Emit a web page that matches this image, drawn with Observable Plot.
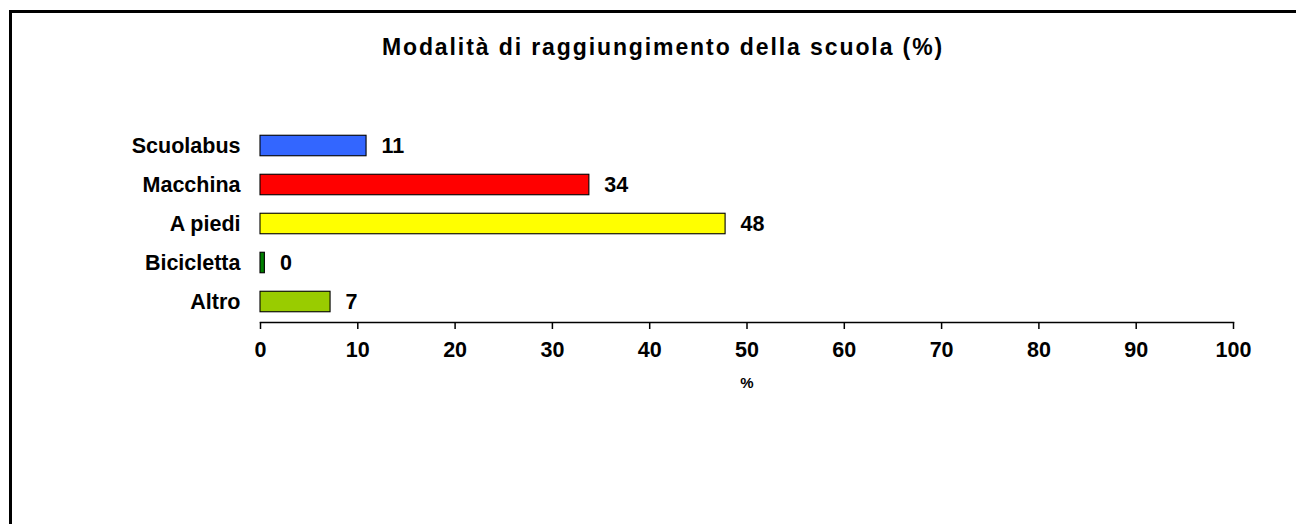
<!DOCTYPE html>
<html>
<head>
<meta charset="utf-8">
<script src="https://cdn.jsdelivr.net/npm/d3@7"></script>
<script src="https://cdn.jsdelivr.net/npm/@observablehq/plot@0.6"></script>
<style>
  html, body { margin: 0; padding: 0; background: #fff; overflow: hidden; }
  #wrap { position: relative; width: 1296px; height: 524px; font-family: Arial, "Liberation Sans", sans-serif; }
  #frame { position: absolute; left: 9px; top: 10px; width: 1400px; height: 700px; border: 3px solid #000; box-sizing: border-box; }
  #title { position: absolute; left: 0; width: 1326px; top: 34px; text-align: center; font-weight: bold; font-size: 23px; letter-spacing: 1.9px; line-height: 26px; color: #000; }
  #chart { position: absolute; left: 0; top: 0; }
</style>
</head>
<body>
<div id="wrap">
  <div id="frame"></div>
  <div id="title">Modalità di raggiungimento della scuola (%)</div>
  <div id="chart"></div>
</div>
<script>
const categories = ["Scuolabus", "Macchina", "A piedi", "Bicicletta", "Altro"];
const values = [10.9, 33.8, 47.8, 0.45, 7.2];
const valueLabels = ["11", "34", "48", "0", "7"];
const colors = ["#3366FF", "#FF0000", "#FFFF00", "#008000", "#99CC00"];
const xTicks = [0, 10, 20, 30, 40, 50, 60, 70, 80, 90, 100];

const data = categories.map((c, i) => ({cat: c, value: values[i], label: valueLabels[i], color: colors[i]}));

const chart = Plot.plot({
  width: 1296,
  height: 524,
  marginLeft: 260,
  marginRight: 63,
  marginTop: 124.5,
  marginBottom: 202,
  style: {fontFamily: "Arial, 'Liberation Sans', sans-serif", fontWeight: "bold", fontSize: "21.5px", color: "#000", background: "transparent"},
  x: {domain: [0, 100], ticks: xTicks},
  y: {domain: categories, padding: 0},
  marks: [
    Plot.barX(data, {x: "value", y: "cat", fill: "color", stroke: "#000", strokeWidth: 1.1, insetTop: 9.25, insetBottom: 9.25}),
    Plot.text(data, {x: "value", y: "cat", text: "label", textAnchor: "start", dx: 15, fontSize: 21.5, fontWeight: "bold", fill: "#000"}),
    Plot.frame({anchor: "bottom", stroke: "#000", strokeWidth: 1.5, strokeOpacity: 1}),
    Plot.axisX({ticks: xTicks, tickSize: 7, tickPadding: 12, tickFormat: d => String(d), fontSize: 21.5, fontWeight: "bold", stroke: "#000", strokeOpacity: 1, strokeWidth: 1.5, label: null}),
    Plot.axisX({ticks: [], tickSize: 0, label: "%", labelAnchor: "center", labelArrow: "none", labelOffset: 65, fontSize: 15}),
    Plot.axisY({tickSize: 0, tickPadding: 20, fontSize: 21.5, fontWeight: "bold", label: null})
  ]
});
document.getElementById("chart").appendChild(chart);
</script>
</body>
</html>
